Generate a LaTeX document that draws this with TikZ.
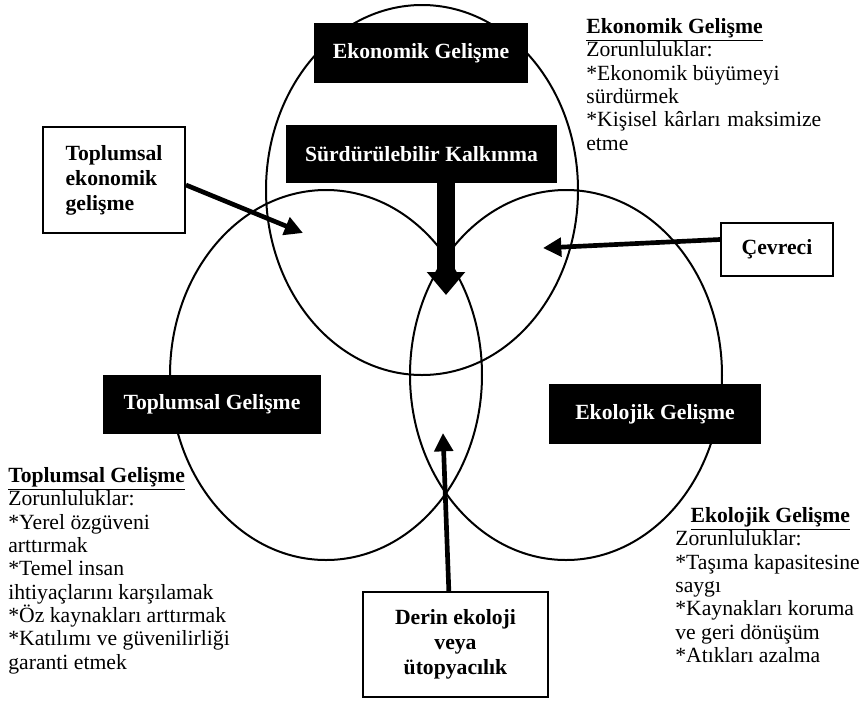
\documentclass[tikz,border=0pt]{standalone}
\usepackage{fontspec}
\setmainfont{Liberation Serif}
\usetikzlibrary{arrows.meta}

\begin{document}
\begin{tikzpicture}[x=0.6pt, y=-0.6pt,
    ring/.style={line width=1.2pt},
    blackbox/.style={fill=black, text=white, inner sep=0pt,
      font=\fontsize{13}{15}\selectfont\bfseries},
    whitebox/.style={draw, fill=white, line width=1.2pt, inner sep=0pt,
      font=\fontsize{13}{15}\selectfont\bfseries},
    fatarrow/.style={line width=2.8pt, -{Triangle[length=11pt,width=11pt]}},
    notes/.style={font=\fontsize{13}{14}\selectfont, align=left,
      anchor=north west, inner sep=0pt}]

  \useasboundingbox (0,0) rectangle (861,700);

  % three rings
  \draw[ring] (422,190) ellipse [x radius=156, y radius=185];
  \draw[ring] (326,375) ellipse [x radius=156, y radius=185];
  \draw[ring] (566,375) ellipse [x radius=156, y radius=185];

  % black title boxes
  \node[blackbox, minimum width=128.4pt, minimum height=36pt] (ekoBox) at (421,53) {Ekonomik Gelişme};
  \node[blackbox, minimum width=162.6pt, minimum height=34.8pt] (surBox) at (421.5,154) {Sürdürülebilir Kalkınma};
  \node[blackbox, minimum width=130.8pt, minimum height=35.4pt] (topBox) at (212,404.5) {Toplumsal Gelişme};
  \node[blackbox, minimum width=127.2pt, minimum height=36pt] (ekolBox) at (655,414) {Ekolojik Gelişme};

  \coordinate (surTip) at (446,295);
  \draw[line width=10.8pt, -{Triangle[length=13.8pt,width=22.2pt]}] (surTip |- surBox.south) -- (surTip);

  % white boxes with arrows
  \node[whitebox, minimum width=85.2pt, minimum height=63.6pt, align=left] (tekBox) at (114,180) {Toplumsal\\ ekonomik\\ gelişme};
  \node[whitebox, minimum width=67.2pt, minimum height=31.8pt] (cevBox) at (777,249.5) {Çevreci};
  \node[whitebox, minimum width=111pt, minimum height=63pt, align=center] (derBox) at (455.5,644.5) {Derin ekoloji\\ veya\\ ütopyacılık};

  \coordinate (tekTip) at (303,233);
  \coordinate (cevTip) at (543,248);
  \coordinate (derTip) at (443,433);
  \draw[fatarrow] ([yshift=-3pt]tekBox.east) -- (tekTip);
  \draw[fatarrow] ([yshift=6pt]cevBox.west) -- (cevTip);
  \draw[fatarrow] ([xshift=-4pt]derBox.north) -- (derTip);

  % notes
  \node[notes] (ekoNote) at (586,18) {\underline{\textbf{Ekonomik Gelişme}}\\ Zorunluluklar:\\ {}*Ekonomik büyümeyi\\ sürdürmek\\ \makebox[141pt][s]{*Kişisel kârları maksimize}\\ etme};
  \node[notes] (topNote) at (8,467) {\underline{\textbf{Toplumsal Gelişme}}\\ Zorunluluklar:\\ {}*Yerel özgüveni\\ arttırmak\\ {}*Temel insan\\ ihtiyaçlarını karşılamak\\ {}*Öz kaynakları arttırmak\\ {}*Katılımı ve güvenilirliği\\ garanti etmek};
  \node[notes] (ekolNote) at (675,507) {\makebox[114pt]{\underline{\textbf{Ekolojik Gelişme}}}\\ Zorunluluklar:\\ {}*Taşıma kapasitesine\\ saygı\\ {}*Kaynakları koruma\\ ve geri dönüşüm\\ {}*Atıkları azalma};

\end{tikzpicture}
\end{document}
